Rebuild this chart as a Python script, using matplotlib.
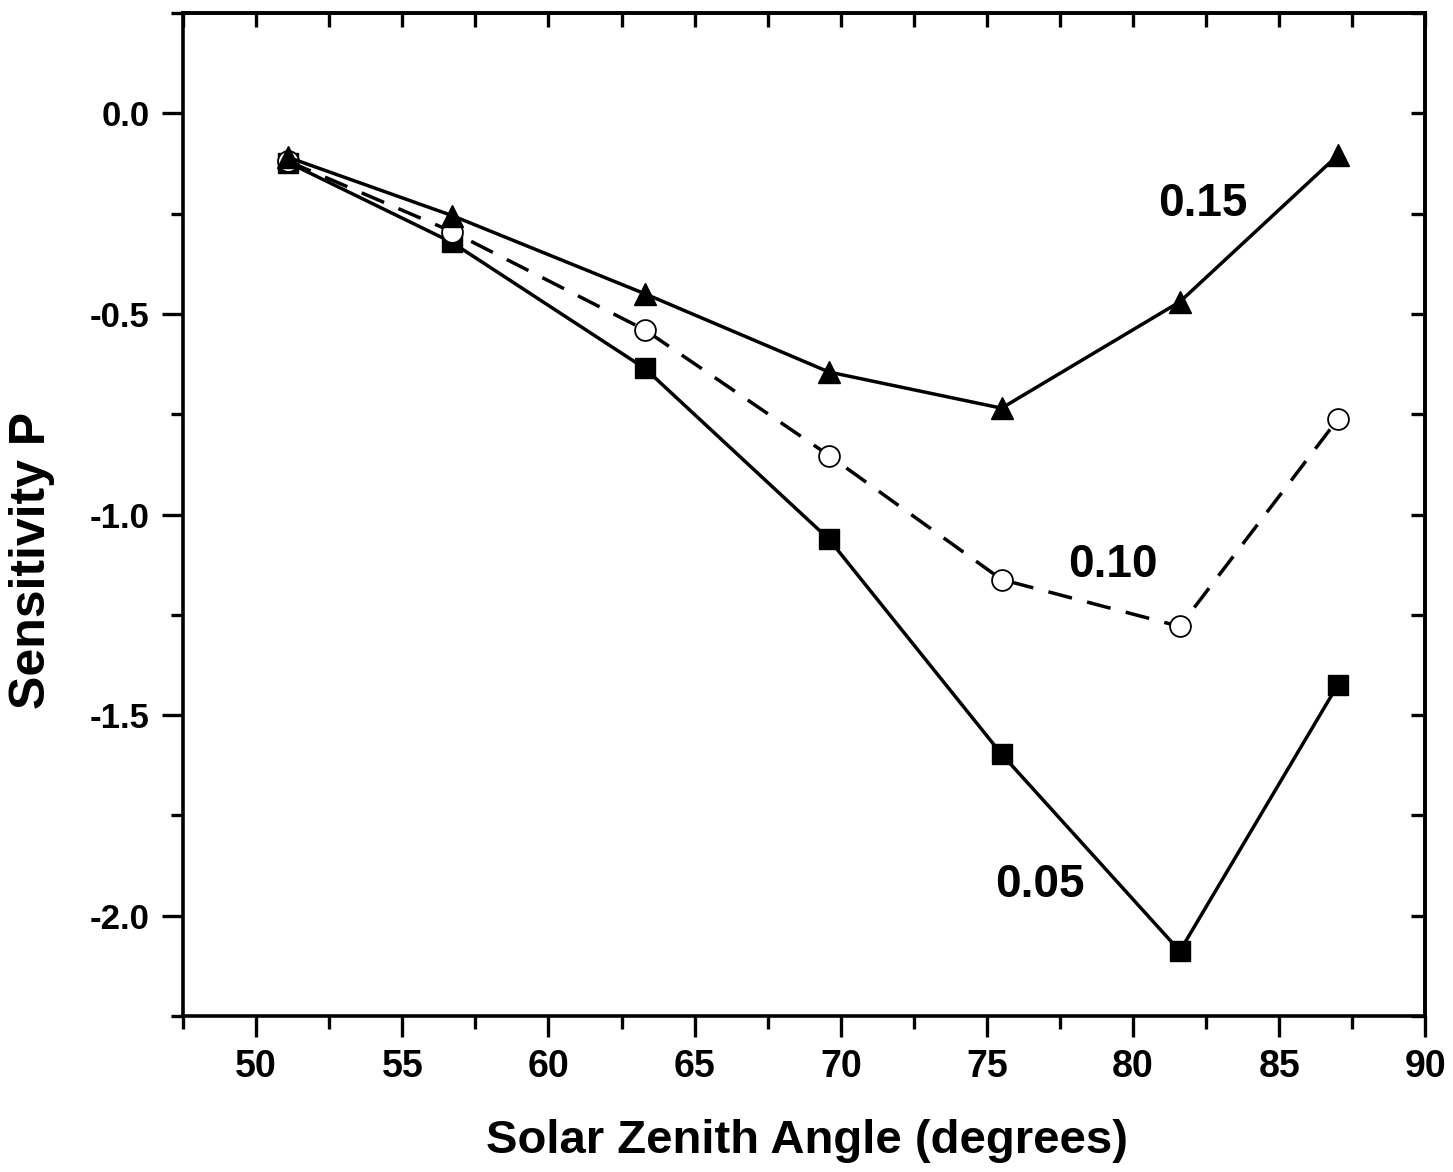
import matplotlib
matplotlib.use("Agg")
import matplotlib.pyplot as plt
from matplotlib.ticker import MultipleLocator

plt.rcParams["font.family"] = ["Liberation Sans", "DejaVu Sans"]
plt.rcParams["font.weight"] = "bold"

# solar zenith angle (degrees)
angles = [51.1, 56.7, 63.3, 69.6, 75.5, 81.6, 87.0]
# sensitivity P for each value of the parameter
p_015 = [-0.11, -0.255, -0.45, -0.645, -0.735, -0.47, -0.105]
p_010 = [-0.12, -0.295, -0.54, -0.853, -1.162, -1.279, -0.763]
p_005 = [-0.123, -0.322, -0.636, -1.062, -1.597, -2.088, -1.425]
curve_labels = ["0.15", "0.10", "0.05"]
label_pos = [(82.4, -0.225), (79.3, -1.127), (76.8, -1.924)]

fig = plt.figure(figsize=(14.53, 11.72), dpi=100)
ax = fig.add_axes([0.126, 0.133, 0.855, 0.856])

ax.plot(angles, p_005, color="black", lw=2.5, marker="s", ms=14,
        markerfacecolor="black", markeredgecolor="black")
ax.plot(angles, p_010, color="black", lw=2.5, ls=(0, (7, 4.5)), marker="o", ms=15,
        markerfacecolor="white", markeredgecolor="black", markeredgewidth=1.3)
ax.plot(angles, p_015, color="black", lw=2.5, marker="^", ms=16,
        markerfacecolor="black", markeredgecolor="black")

for text, (x, y) in zip(curve_labels, label_pos):
    ax.text(x, y, text, fontsize=33, fontweight="bold", ha="center", va="center")

ax.set_xlim(47.5, 90)
ax.set_ylim(-2.25, 0.25)
ax.xaxis.set_minor_locator(MultipleLocator(2.5))
ax.yaxis.set_minor_locator(MultipleLocator(0.25))
ax.set_xticks([50, 55, 60, 65, 70, 75, 80, 85, 90])
ax.set_yticks([-2.0, -1.5, -1.0, -0.5, 0.0])
ax.set_yticklabels(["-2.0", "-1.5", "-1.0", "-0.5", "0.0"])

ax.tick_params(axis="both", which="major", direction="out", length=15, width=2.4, pad=9)
ax.tick_params(axis="both", which="minor", direction="out", length=9, width=2.4)
ax.tick_params(axis="x", which="major", labelsize=27)
ax.tick_params(axis="y", which="major", labelsize=25)
for lab in ax.get_xticklabels() + ax.get_yticklabels():
    lab.set_fontweight("bold")

# inward ticks on top and right
sec_x = ax.secondary_xaxis("top")
sec_x.xaxis.set_major_locator(MultipleLocator(5))
sec_x.xaxis.set_minor_locator(MultipleLocator(2.5))
sec_x.tick_params(which="both", direction="in", length=10, width=2.4, labeltop=False)
sec_y = ax.secondary_yaxis("right")
sec_y.yaxis.set_major_locator(MultipleLocator(0.5))
sec_y.yaxis.set_minor_locator(MultipleLocator(0.25))
sec_y.tick_params(which="both", direction="in", length=10, width=2.4, labelright=False)

for sp in list(ax.spines.values()) + [sec_x.spines["top"], sec_y.spines["right"]]:
    sp.set_linewidth(2.6)

ax.set_xlabel("Solar Zenith Angle (degrees)", fontsize=34, fontweight="bold")
ax.set_ylabel("Sensitivity P", fontsize=36, fontweight="bold")
ax.xaxis.set_label_coords(0.502, -0.103)
ax.yaxis.set_label_coords(-0.103, 0.454)

fig.savefig("out.png", dpi=100)
